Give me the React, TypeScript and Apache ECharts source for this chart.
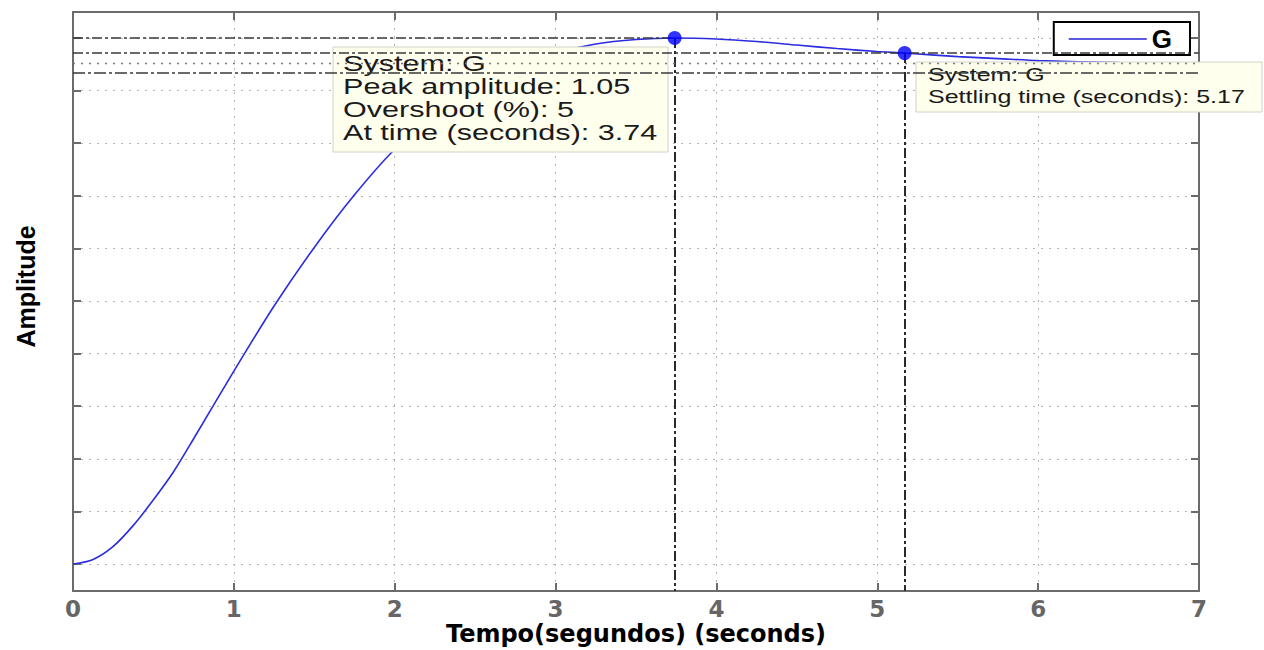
import React, { useEffect, useRef } from "react";
import * as echarts from "echarts";

// Step response of system G
const timeS = [0, 0.125, 0.25, 0.375, 0.5, 0.625, 0.75, 1.0, 1.25, 1.5, 1.75, 2.0, 2.25, 2.5, 2.75, 3.0, 3.25, 3.5, 3.74, 4.0, 4.25, 4.5, 4.75, 5.0, 5.17, 5.5, 5.75, 6.0, 6.5, 7.0];
const amplitude = [0, 0.009, 0.035, 0.077, 0.128, 0.184, 0.25, 0.385, 0.515, 0.632, 0.737, 0.828, 0.898, 0.953, 0.993, 1.02, 1.038, 1.047, 1.05, 1.048, 1.043, 1.036, 1.029, 1.023, 1.02, 1.013, 1.009, 1.005, 1.001, 0.999];

const xTicks = [0, 1, 2, 3, 4, 5, 6, 7];
const yGridValues = [0, 0.105, 0.21, 0.315, 0.42, 0.525, 0.63, 0.735, 0.84, 0.945, 1.05];
const yRange = [-0.054, 1.102];

const peakPoint = [3.74, 1.05];
const settlingPoint = [5.17, 1.02];
const settlingBand = [0.98, 1.02];
const steadyState = 1.0;

const peakLines = ["System: G", "Peak amplitude: 1.05", "Overshoot (%): 5", "At time (seconds): 3.74"];
const settlingLines = ["System: G", "Settling time (seconds): 5.17"];

export default function App() {
  const ref = useRef<HTMLDivElement>(null);

  useEffect(() => {
    if (!ref.current) return;
    const chart = echarts.init(ref.current, undefined, { renderer: "svg" });
    const axisGray = "#6b6b6b";
    const dashDot = [10, 3, 3, 3];
    const gridStyle = { color: "#b4b4b4", width: 1, type: [2, 6] as any };
    const xMin = xTicks[0];
    const xMax = xTicks[xTicks.length - 1];

    const peakText = peakLines.map((t, i) => ({
      type: "text",
      x: 343,
      y: 64 + i * 22.7,
      scaleX: 1.39,
      z: 4,
      style: { text: t, font: '22px "Liberation Sans", Arial, sans-serif', fill: "#1a1a1a", verticalAlign: "middle" },
    }));
    const settlingText = settlingLines.map((t, i) => ({
      type: "text",
      x: 928,
      y: 75 + i * 22,
      scaleX: 1.39,
      z: 4,
      style: { text: t, font: '18px "Liberation Sans", Arial, sans-serif', fill: "#1a1a1a", verticalAlign: "middle" },
    }));

    chart.setOption({
      animation: false,
      backgroundColor: "#ffffff",
      grid: { left: 73, right: 65, top: 12, bottom: 59, containLabel: false, outerBoundsMode: "none" },
      legend: {
        data: [{ name: "G", itemStyle: { color: "#5a5ae0" } }],
        right: 74,
        top: 22,
        backgroundColor: "#ffffff",
        borderColor: "#000000",
        borderWidth: 2,
        borderRadius: 0,
        padding: [4, 18, 3, 15],
        itemWidth: 78,
        itemHeight: 2,
        icon: "rect",
        selectedMode: false,
        textStyle: { fontSize: 26, fontWeight: "bold", color: "#000", fontFamily: '"Liberation Sans", Arial, sans-serif' },
      },
      xAxis: [
        {
          type: "value",
          min: xMin,
          max: xMax,
          interval: 1,
          name: "Tempo(segundos) (seconds)",
          nameLocation: "middle",
          nameMoveOverlap: false,
          nameGap: 31,
          nameTextStyle: { fontSize: 24, fontWeight: "bold", color: "#000", fontFamily: '"DejaVu Sans", sans-serif' },
          axisLine: { show: true, onZero: false, lineStyle: { color: axisGray, width: 2 } },
          axisTick: { show: true, inside: true, length: 8, lineStyle: { color: axisGray, width: 2 } },
          axisLabel: { show: true, margin: 6, fontSize: 23, fontWeight: "bold", color: "#666", fontFamily: '"DejaVu Sans", sans-serif' },
          splitLine: { show: true, lineStyle: gridStyle },
        },
        {
          type: "value",
          position: "top",
          min: xMin,
          max: xMax,
          interval: 1,
          axisLine: { show: true, onZero: false, lineStyle: { color: axisGray, width: 2 } },
          axisTick: { show: true, inside: true, length: 8, lineStyle: { color: axisGray, width: 2 } },
          axisLabel: { show: false },
          splitLine: { show: false },
        },
      ],
      yAxis: [
        {
          type: "value",
          min: yRange[0],
          max: yRange[1],
          name: "Amplitude",
          nameLocation: "middle",
          nameGap: 35,
          nameTextStyle: { fontSize: 25, fontWeight: "bold", color: "#000", fontFamily: '"Liberation Sans", Arial, sans-serif', padding: [0, 0, 0, 30] },
          axisLine: { show: true, onZero: false, lineStyle: { color: axisGray, width: 2 } },
          axisTick: { show: true, inside: true, length: 8, customValues: yGridValues, lineStyle: { color: axisGray, width: 2 } },
          axisLabel: { show: false, customValues: yGridValues },
          splitLine: { show: true, lineStyle: gridStyle },
        },
        {
          type: "value",
          position: "right",
          min: yRange[0],
          max: yRange[1],
          axisLine: { show: true, onZero: false, lineStyle: { color: axisGray, width: 2 } },
          axisTick: { show: true, inside: true, length: 8, customValues: yGridValues, lineStyle: { color: axisGray, width: 2 } },
          axisLabel: { show: false, customValues: yGridValues },
          splitLine: { show: false },
        },
      ],
      series: [
        {
          name: "G",
          type: "line",
          z: 2,
          data: timeS.map((t, i) => [t, amplitude[i]]),
          smooth: 0.3,
          showSymbol: false,
          symbol: "none",
          silent: true,
          color: "#2b2bdf",
          lineStyle: { color: "#2b2bdf", width: 1.6 },
        },
        {
          name: "characteristics",
          type: "line",
          data: [],
          silent: true,
          markLine: {
            silent: true,
            symbol: ["none", "none"],
            label: { show: false },
            z: 5,
            data: [
              [
                { coord: [xMin, peakPoint[1]], lineStyle: { type: dashDot, color: "#3a3a3a", width: 1.6 } },
                { coord: [peakPoint[0], peakPoint[1]] },
              ],
              [
                { coord: [peakPoint[0], peakPoint[1]], lineStyle: { type: dashDot, color: "#2a2a2a", width: 2 } },
                { coord: [peakPoint[0], yRange[0]] },
              ],
              [
                { coord: [xMin, settlingBand[1]], lineStyle: { type: dashDot, color: "#3a3a3a", width: 1.6 } },
                { coord: [xMax, settlingBand[1]] },
              ],
              [
                { coord: [xMin, steadyState], lineStyle: { type: [2, 6], color: "#777", width: 1.4 } },
                { coord: [xMax, steadyState] },
              ],
              [
                { coord: [xMin, settlingBand[0]], lineStyle: { type: [12, 3, 3, 3], color: "#3a3a3a", width: 1.6 } },
                { coord: [xMax, settlingBand[0]] },
              ],
              [
                { coord: [settlingPoint[0], settlingPoint[1]], lineStyle: { type: dashDot, color: "#2a2a2a", width: 2 } },
                { coord: [settlingPoint[0], yRange[0]] },
              ],
            ],
          },
        },
        {
          name: "points",
          type: "scatter",
          z: 6,
          silent: true,
          symbolSize: 14,
          itemStyle: { color: "#0000ff" },
          data: [peakPoint, settlingPoint],
        },
      ],
      graphic: [
        {
          type: "rect",
          z: 3,
          shape: { x: 333, y: 47, width: 335, height: 105 },
          style: { fill: "#ffffee", stroke: "#d2d2c2", lineWidth: 1 },
        },
        ...peakText,
        {
          type: "rect",
          z: 3,
          shape: { x: 916, y: 62, width: 346, height: 50 },
          style: { fill: "#ffffee", stroke: "#d2d2c2", lineWidth: 1 },
        },
        ...settlingText,
      ],
    });

    return () => chart.dispose();
  }, []);

  return (
    <div
      ref={ref}
      style={{ position: "fixed", left: 0, top: 0, width: 1264, height: 650, background: "#fff" }}
    />
  );
}
